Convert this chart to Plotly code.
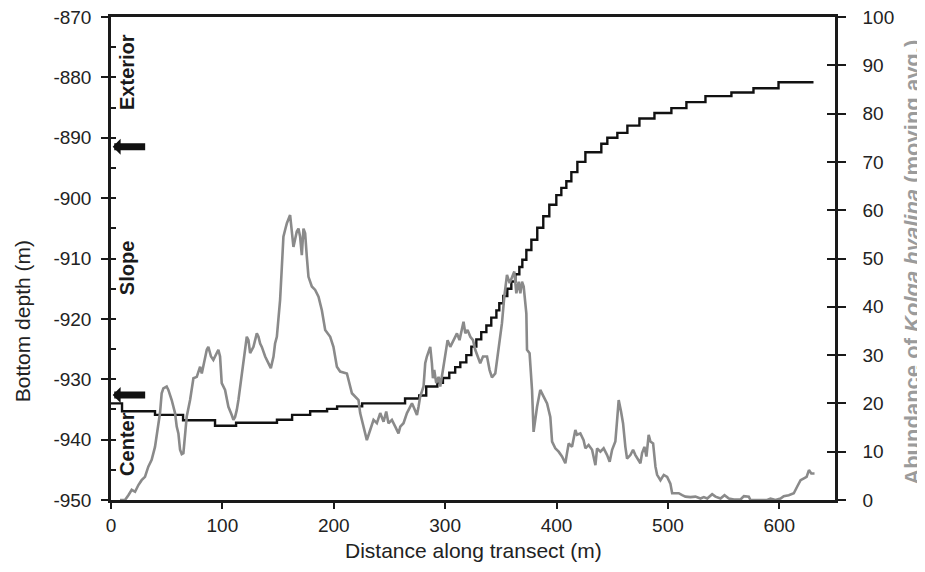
import plotly.graph_objects as go

# ---- Bottom depth (black step line, left axis) ----
depth_x = [0, 9.9, 39.5, 64.7, 93.4, 112.3, 149, 162.6, 178.8, 194, 203, 225.5, 264, 276.7,
           283, 293, 298, 303.7, 309, 313.6, 319, 323.5, 328, 332.4, 337, 341.4, 346, 348.6,
           352.2, 355.8, 359.4, 363, 366.6, 369.3, 372.9, 377.4, 382.7, 388.1, 393.5, 399.8,
           404.3, 408.8, 413.3, 418.7, 425.9, 440.2, 445.6, 454.6, 463.6, 474.4, 487.9, 503.1,
           516.6, 533.7, 557, 576.8, 599.3, 630.7]
depth_m = [-934.0, -935.3, -935.9, -936.8, -937.7, -937.2, -936.7, -935.9, -935.3, -934.9, -934.5,
           -934.0, -933.2, -932.7, -931.2, -930.6, -929.8, -928.9, -928.0, -927.2, -926.0, -924.6,
           -923.4, -922.2, -921.1, -919.8, -918.6, -917.4, -916.2, -915.0, -913.8, -912.6, -911.4,
           -910.2, -908.6, -906.9, -904.9, -903.0, -901.1, -899.5, -898.3, -897.2, -895.7, -894.0,
           -892.4, -891.0, -890.0, -889.2, -888.0, -886.8, -885.9, -885.1, -884.1, -883.1, -882.5,
           -881.8, -880.8, -880.8]

# ---- Kolga hyalina abundance (grey line, right axis) ----
abund_x = [8.1, 12.6, 15.6, 18.6, 21.6, 24.6, 27.5, 30.5, 33.5, 36.5, 39.5, 41.0, 42.5, 44.0, 45.5,
           47.0, 50.0, 51.5, 54.5, 57.5, 59.0, 60.5, 62.0, 63.5, 65.0, 66.5, 68.0, 71.0, 72.5, 74.0,
           77.0, 80.0, 81.5, 83.0, 86.0, 87.4, 89.8, 91.9, 94.9, 96.4, 97.9, 99.4, 102.4, 103.9,
           105.4, 108.4, 109.9, 111.4, 112.9, 114.4, 117.4, 118.9, 120.4, 121.9, 123.4, 124.9,
           127.9, 130.9, 132.4, 133.9, 135.4, 138.4, 141.4, 143.5, 145.9, 147.3, 148.9, 150.4,
           151.8, 153.4, 154.8, 156.3, 157.9, 160.8, 162.4, 163.8, 166.8, 168.3, 169.8, 171.3,
           172.8, 174.3, 175.8, 177.3, 180.3, 183.3, 186.3, 189.3, 192.3, 196.8, 199.7, 202.8,
           205.7, 211.8, 216.3, 219.2, 222.2, 223.7, 226.7, 229.7, 232.7, 235.7, 238.7, 241.7,
           244.7, 247.1, 249.1, 252.2, 255.2, 258.1, 259.7, 262.6, 265.7, 268.6, 270.2, 271.6,
           274.7, 276.1, 277.6, 280.6, 282.1, 283.6, 286.6, 288.1, 289.0, 290.2, 292.0, 294.1,
           295.6, 298.0, 300.1, 302.2, 304.6, 307.5, 310.6, 312.9, 315.1, 316.5, 318.1, 320.1,
           322.6, 325.0, 327.0, 329.1, 331.5, 334.0, 337.6, 339.9, 342.0, 345.0, 348.0, 351.0,
           353.1, 355.5, 357.9, 360.0, 362.1, 363.9, 366.0, 367.5, 369.0, 370.5, 372.9, 373.5,
           375.8, 378.0, 379.4, 382.5, 385.4, 388.4, 391.5, 394.4, 396.0, 398.9, 401.9, 404.9,
           407.9, 409.4, 410.9, 413.9, 416.9, 418.4, 421.4, 424.3, 425.9, 428.8, 431.9, 434.9,
           436.4, 439.4, 442.3, 445.4, 447.7, 449.9, 452.8, 454.4, 455.8, 457.9, 459.7, 461.8,
           463.3, 466.3, 468.7, 470.8, 472.9, 475.3, 476.8, 478.9, 480.7, 482.7, 484.3, 486.7,
           488.8, 490.3, 493.3, 496.3, 499.3, 502.2, 503.8, 509.7, 512.8, 515.7, 520.2, 524.7,
           529.2, 532.2, 535.3, 539.7, 542.7, 547.2, 550.8, 554.7, 559.2, 565.2, 568.2, 572.6,
           574.1, 583.1, 589.1, 592.1, 596.6, 601.1, 604.0, 608.5, 613.0, 616.1, 619.1, 622.1,
           624.5, 626.6, 628.7, 631.6]
abund_v = [0, 0, 1.0, 2.1, 1.7, 3.1, 4.1, 4.8, 6.9, 8.3, 11.0, 13.1, 15.2, 18.0, 22.1,
           23.1, 23.5, 22.8, 20.7, 18.0, 15.2, 13.8, 10.4, 9.5, 9.7, 13.8, 17.3, 20.7, 23.5, 25.2,
           25.5, 27.6, 26.2, 27.9, 31.1, 31.7, 29.7, 29.0, 30.4, 31.1, 29.7, 24.2, 22.8, 20.7,
           19.3, 17.6, 16.6, 17.2, 18.6, 20.7, 26.2, 29.0, 31.7, 33.8, 33.1, 30.4,
           31.7, 34.5, 33.8, 32.4, 31.7, 29.7, 28.3, 27.3, 29.7, 32.4, 33.8, 37.9,
           41.4, 48.3, 54.5, 55.9, 57.3, 59.0, 55.2, 52.4, 55.6, 56.2, 54.5, 50.7,
           56.2, 55.2, 50.4, 46.2, 44.2, 43.5, 42.1, 39.3, 35.2, 33.8, 31.7, 27.6,
           26.6, 26.2, 22.1, 21.4, 20.7, 18.0, 15.2, 12.4, 14.5, 16.6, 15.9, 18.0,
           16.2, 18.3, 15.9, 16.6, 15.2, 13.8, 15.2, 15.9, 18.0, 19.3, 20.0, 19.3,
           17.6, 19.3, 21.4, 23.5, 28.3, 29.7, 31.7, 28.3, 25.2, 26.9, 24.2, 25.5,
           23.5, 26.9, 30.4, 33.1, 31.7, 33.1, 34.5, 33.1, 35.2, 36.9, 34.5, 35.2,
           33.8, 33.1, 31.1, 29.7, 28.3, 29.7, 29.7, 26.9, 25.4, 26.2, 31.1, 36.6,
           42.1, 46.6, 44.9, 46.2, 47.3, 42.8, 45.2, 42.8, 45.2, 44.2, 38.6, 31.1,
           30.4, 22.8, 14.1, 19.3, 22.8, 21.4, 20.0, 17.2, 12.1, 10.7, 10.0, 9.0,
           7.6, 9.7, 11.7, 11.0, 14.5, 13.5, 13.8, 12.4, 10.7, 11.4, 10.4, 7.2,
           10.7, 10.0, 10.7, 9.3, 7.9, 10.4, 12.1, 16.6, 20.7, 18.3, 15.9, 11.0,
           8.6, 9.3, 10.4, 9.3, 8.6, 7.6, 9.7, 11.0, 9.0, 13.5, 12.1, 11.7,
           6.9, 5.2, 4.1, 5.2, 4.8, 3.4, 1.4, 1.4, 1.0, 0.7, 0.6, 0.7,
           0.3, 0.6, 0.3, 1.2, 0.7, 0.3, 1.0, 0.3, 0.1, 0.1, 0.8, 0.7,
           0.0, 0.0, 0.0, 0.3, 0.0, 0.3, 0.8, 1.0, 1.4, 2.8, 4.1, 4.5,
           4.8, 6.2, 5.5, 5.5]

x_range = [0, 650]
x_ticks = [0, 100, 200, 300, 400, 500, 600]
depth_range = [-950, -870]
depth_ticks = [-950, -940, -930, -920, -910, -900, -890, -880, -870]
depth_ticktext = ["-950", "-940", "-930", "-920", "-910", "-900", "-890", "-880", "-870"]
abund_range = [0, 100]
abund_ticks = [0, 10, 20, 30, 40, 50, 60, 70, 80, 90, 100]
zone_labels = ["Exterior", "Slope", "Center"]
zone_depths = [-879.1, -911.6, -940.7]
arrow_depths = [-891.5, -932.6]

FONT = "Liberation Sans, Arial, sans-serif"
TICKC = "#1a1a1a"
GREY = "#8a8a8a"

# The page body adds an 8px offset; the figure is sized so it ends exactly at the window edge.
fig = go.Figure()
fig.add_trace(go.Scatter(x=depth_x, y=depth_m, mode="lines", line=dict(color="#111111", width=2.4, shape="hv"),
                         yaxis="y", showlegend=False, hoverinfo="skip"))
fig.add_trace(go.Scatter(x=abund_x, y=abund_v, mode="lines", line=dict(color=GREY, width=2.6),
                         yaxis="y2", showlegend=False, hoverinfo="skip"))

axis_common = dict(showgrid=False, zeroline=False, linecolor=TICKC, linewidth=2.5, automargin=False,
                   ticklabeloverflow="allow",
                   tickcolor=TICKC, tickwidth=2, tickfont=dict(family=FONT, size=19, color="#222222"))

fig.update_layout(
    width=917, height=564,
    margin=dict(l=103, r=90, t=9, b=72, pad=0, autoexpand=False),
    paper_bgcolor="white", plot_bgcolor="white",
    xaxis=dict(range=x_range, tickvals=x_ticks, ticks="outside", ticklen=6, showline=True,
               mirror=True, ticklabelstandoff=0, **axis_common),
    yaxis=dict(range=depth_range, tickvals=depth_ticks, ticktext=depth_ticktext, ticks="outside",
               ticklen=7, showline=True, ticklabelstandoff=6, **axis_common),
    yaxis2=dict(range=abund_range, tickvals=abund_ticks, ticks="outside", ticklen=8, showline=True,
                overlaying="y", side="right", ticklabelstandoff=13, **axis_common),
    yaxis3=dict(range=depth_range, dtick=5, tick0=-950, ticks="inside", ticklen=5, showline=False,
                overlaying="y", side="left", showticklabels=False, showgrid=False, zeroline=False,
                automargin=False, tickcolor=TICKC, tickwidth=2),
    yaxis4=dict(range=abund_range, dtick=10, tick0=0, ticks="inside", ticklen=8, showline=False,
                overlaying="y", side="right", showticklabels=False, showgrid=False, zeroline=False,
                automargin=False, tickcolor=TICKC, tickwidth=2),
)
fig.add_trace(go.Scatter(x=[None], y=[None], yaxis="y3", showlegend=False, hoverinfo="skip"))
fig.add_trace(go.Scatter(x=[None], y=[None], yaxis="y4", showlegend=False, hoverinfo="skip"))

annotations = []
for lab, d in zip(zone_labels, zone_depths):
    annotations.append(dict(x=14.4, y=d, xref="x", yref="y", text=f"<b>{lab}</b>", showarrow=False,
                            textangle=-90, font=dict(family=FONT, size=20, color="#1a1a1a"),
                            xanchor="center", yanchor="middle"))
for d in arrow_depths:
    annotations.append(dict(x=1.5, y=d, xref="x", yref="y", text="", showarrow=True, arrowhead=1,
                            arrowsize=0.38, arrowwidth=7, arrowcolor="#111111", ax=34, ay=0,
                            standoff=0))
annotations += [
    dict(x=0.5, y=-0.105, xref="paper", yref="paper", text="Distance along transect (m)", showarrow=False,
         font=dict(family=FONT, size=21, color="#222222"), xanchor="center", yanchor="middle"),
    dict(x=-0.123, y=0.37, xref="paper", yref="paper", text="Bottom depth (m)", showarrow=False,
         textangle=-90, font=dict(family=FONT, size=21, color="#222222"), xanchor="center", yanchor="middle"),
    dict(x=1.1075, y=0.493, xref="paper", yref="paper",
         text="<b>Abundance of <i>Kolga hyalina</i> (moving avg.)</b>", showarrow=False,
         textangle=-90, font=dict(family=FONT, size=22, color="#9b9b9b"), xanchor="center", yanchor="middle"),
]
fig.update_layout(annotations=annotations)

fig.write_html("out.html")
